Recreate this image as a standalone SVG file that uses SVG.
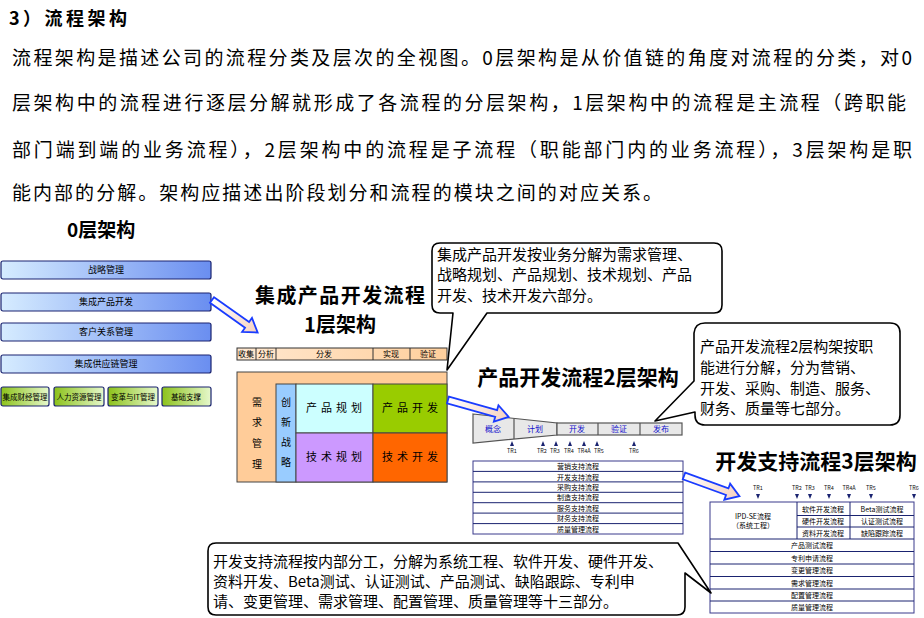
<svg xmlns="http://www.w3.org/2000/svg" width="924" height="618" viewBox="0 0 924 618">
<defs>
<linearGradient id="gBlue" x1="0" y1="0" x2="1" y2="0"><stop offset="0" stop-color="#d6ecff"/><stop offset="1" stop-color="#6a8ef0"/></linearGradient>
<linearGradient id="gGreen" x1="0" y1="0" x2="1" y2="0"><stop offset="0" stop-color="#8cc21a"/><stop offset="1" stop-color="#e6f8cc"/></linearGradient>
<linearGradient id="gPeach" x1="0" y1="0" x2="1" y2="0"><stop offset="0" stop-color="#ffe8d0"/><stop offset="1" stop-color="#ffcf9c"/></linearGradient>
<linearGradient id="gArrow" x1="0" y1="0" x2="1" y2="0"><stop offset="0" stop-color="#ffffff"/><stop offset="1" stop-color="#f6d2c0"/></linearGradient>
</defs>
<style>
text{font-family:"Noto Sans CJK SC","Liberation Sans",sans-serif;fill:#000}
.title{font-size:18px;font-weight:bold}
.para{font-size:19px}
.h{font-size:21px;font-weight:bold;text-anchor:middle}
.h1{font-size:20px;font-weight:bold;text-anchor:middle}
.bar{stroke:#1a2370;stroke-width:1.2}
.bt{font-size:9px;text-anchor:middle}
.gt{font-size:7.5px;text-anchor:middle}
.tiny{font-size:8px;text-anchor:middle}
.blue{font-size:8px;text-anchor:middle;fill:#1010cc}
.tr{font-size:5.5px;text-anchor:middle;fill:#111}
.cell{stroke:#444;stroke-width:1}
.big{font-size:11px;text-anchor:middle;letter-spacing:4px}
.tbl{fill:#fff;stroke:#3a3a8c;stroke-width:1}
.rt{font-size:7px;text-anchor:middle}
.arrow{fill:url(#gArrow);stroke:#1a3cff;stroke-width:1.8;stroke-linejoin:miter}
.call{fill:#fff;stroke:#000;stroke-width:1.6;stroke-linejoin:round}
.ct{font-size:15px}
.tri{fill:#1a2370}
</style>
<rect width="924" height="618" fill="#fff"/>

<g id="intro">
<text class="title" x="9" y="25" textLength="118" lengthAdjust="spacing">3）流程架构</text>
<text class="para" x="12" y="65" textLength="900" lengthAdjust="spacing">流程架构是描述公司的流程分类及层次的全视图。0层架构是从价值链的角度对流程的分类，对0</text>
<text class="para" x="12" y="110" textLength="894" lengthAdjust="spacing">层架构中的流程进行逐层分解就形成了各流程的分层架构，1层架构中的流程是主流程（跨职能</text>
<text class="para" x="12" y="157" textLength="900" lengthAdjust="spacing">部门端到端的业务流程），2层架构中的流程是子流程（职能部门内的业务流程），3层架构是职</text>
<text class="para" x="12" y="200" textLength="650" lengthAdjust="spacing">能内部的分解。架构应描述出阶段划分和流程的模块之间的对应关系。</text>
</g>

<g id="level0">
<text x="67" y="237" style="font-size:19px;font-weight:bold">0层架构</text>
<rect class="bar" x="1" y="261" width="210" height="18" rx="2" fill="url(#gBlue)"/>
<text class="bt" x="106" y="273">战略管理</text>
<rect class="bar" x="1" y="293" width="210" height="18" rx="2" fill="url(#gBlue)"/>
<text class="bt" x="106" y="305">集成产品开发</text>
<rect class="bar" x="1" y="323" width="210" height="18" rx="2" fill="url(#gBlue)"/>
<text class="bt" x="106" y="335">客户关系管理</text>
<rect class="bar" x="1" y="355" width="210" height="18" rx="2" fill="url(#gBlue)"/>
<text class="bt" x="106" y="367">集成供应链管理</text>
<rect class="bar" x="1" y="387" width="48" height="19" rx="2" fill="url(#gGreen)"/>
<text class="gt" x="25" y="399.5">集成财经管理</text>
<rect class="bar" x="54" y="387" width="50" height="19" rx="2" fill="url(#gGreen)"/>
<text class="gt" x="79" y="399.5">人力资源管理</text>
<rect class="bar" x="108" y="387" width="50" height="19" rx="2" fill="url(#gGreen)"/>
<text class="gt" x="133" y="399.5">变革与IT管理</text>
<rect class="bar" x="162" y="387" width="49" height="19" rx="2" fill="url(#gGreen)"/>
<text class="gt" x="186" y="399.5">基础支撑</text>
</g>

<g id="level1">
<text class="h1" x="340" y="303" textLength="170" lengthAdjust="spacing">集成产品开发流程</text>
<text class="h1" x="340" y="332">1层架构</text>
<rect x="237" y="348" width="210" height="12" fill="url(#gPeach)" stroke="#333" stroke-width="1"/>
<path d="M256,348V360M276,348V360M373,348V360M410,348V360" stroke="#333" stroke-width="1"/>
<text class="tiny" x="246" y="357">收集</text>
<text class="tiny" x="266" y="357">分析</text>
<text class="tiny" x="324" y="357">分发</text>
<text class="tiny" x="391" y="357">实现</text>
<text class="tiny" x="428" y="357">验证</text>
<rect class="cell" x="237" y="372" width="210" height="110" fill="#ffcc99"/>
<rect class="cell" x="276" y="384" width="20" height="98" fill="#99ccff"/>
<rect class="cell" x="296" y="384" width="77" height="49" fill="#ccffff"/>
<rect class="cell" x="373" y="384" width="74" height="49" fill="#99cc00"/>
<rect class="cell" x="296" y="433" width="77" height="49" fill="#cc99ff"/>
<rect class="cell" x="373" y="433" width="74" height="49" fill="#ff6600"/>
<g style="font-size:10px;text-anchor:middle">
<text x="257" y="406">需</text><text x="257" y="426">求</text><text x="257" y="447">管</text><text x="257" y="468">理</text>
<text x="286" y="406">创</text><text x="286" y="426">新</text><text x="286" y="446">战</text><text x="286" y="466">略</text>
</g>
<text class="big" x="336" y="412">产品规划</text>
<text class="big" x="412" y="412">产品开发</text>
<text class="big" x="336" y="461">技术规划</text>
<text class="big" x="412" y="461">技术开发</text>
</g>

<g id="level2">
<text class="h" x="578" y="385">产品开发流程2层架构</text>
<polygon points="473,414 557,423 557,435 473,443" fill="#e8e8e8" stroke="#555" stroke-width="1.2"/>
<rect x="557" y="423" width="125" height="12" fill="#e8e8e8" stroke="#555" stroke-width="1.2"/>
<path d="M514,418.4V439.1M598,423V435M640,423V435" stroke="#555" stroke-width="1.2"/>
<text class="blue" x="493" y="432">概念</text>
<text class="blue" x="535" y="432">计划</text>
<text class="blue" x="577" y="432">开发</text>
<text class="blue" x="619" y="432">验证</text>
<text class="blue" x="661" y="432">发布</text>
<g id="tr2">
<path class="tri" d="M510,446L512,441L514,446ZM541,446L543,441L545,446ZM554,446L556,441L558,446ZM568,446L570,441L572,446ZM582,446L584,441L586,446ZM595,446L597,441L599,446ZM632,446L634,441L636,446Z"/>
<text class="tr" x="512" y="453">TR1</text>
<text class="tr" x="542" y="453">TR2</text>
<text class="tr" x="555" y="453">TR3</text>
<text class="tr" x="569" y="453">TR4</text>
<text class="tr" x="584" y="453">TR4A</text>
<text class="tr" x="599" y="453">TR5</text>
<text class="tr" x="634" y="453">TR6</text>
</g>
<rect class="tbl" x="473" y="461" width="210" height="73" stroke-width="1.5"/>
<path d="M473,471.4H683M473,481.9H683M473,492.3H683M473,502.7H683M473,513.1H683M473,523.6H683" stroke="#1a2370" stroke-width="1"/>
<text class="rt" x="578" y="469">营销支持流程</text>
<text class="rt" x="578" y="479.5">开发支持流程</text>
<text class="rt" x="578" y="490">采购支持流程</text>
<text class="rt" x="578" y="500.4">制造支持流程</text>
<text class="rt" x="578" y="510.8">服务支持流程</text>
<text class="rt" x="578" y="521.2">财务支持流程</text>
<text class="rt" x="578" y="531.6">质量管理流程</text>
</g>

<g id="level3">
<text class="h" x="816" y="469">开发支持流程3层架构</text>
<g id="tr3">
<path class="tri" d="M756,494L760,494L758,499ZM795,494L799,494L797,499ZM808,494L812,494L810,499ZM827,494L831,494L829,499ZM847,494L851,494L849,499ZM869,494L873,494L871,499ZM912,494L916,494L914,499Z"/>
<text class="tr" x="758" y="490">TR1</text>
<text class="tr" x="797" y="490">TR2</text>
<text class="tr" x="810" y="490">TR3</text>
<text class="tr" x="829" y="490">TR4</text>
<text class="tr" x="849" y="490">TR4A</text>
<text class="tr" x="871" y="490">TR5</text>
<text class="tr" x="914" y="490">TR6</text>
</g>
<rect class="tbl" x="710" y="502" width="204" height="111" stroke-width="1.5"/>
<path d="M797,502V539M850,502V539M797,515.5H914M797,527H914M710,539H914M710,551.5H914M710,564H914M710,576.5H914M710,589H914M710,601H914" stroke="#1a2370" stroke-width="1"/>
<text class="rt" x="753" y="519">IPD-SE流程</text>
<text class="rt" x="753" y="528">（系统工程）</text>
<text class="rt" x="823" y="511.5">软件开发流程</text>
<text class="rt" x="823" y="524">硬件开发流程</text>
<text class="rt" x="823" y="535.5">资料开发流程</text>
<text class="rt" x="882" y="511.5">Beta测试流程</text>
<text class="rt" x="882" y="524">认证测试流程</text>
<text class="rt" x="882" y="535.5">缺陷跟踪流程</text>
<text class="rt" x="812" y="548">产品测试流程</text>
<text class="rt" x="812" y="560.5">专利申请流程</text>
<text class="rt" x="812" y="573">变更管理流程</text>
<text class="rt" x="812" y="585.5">需求管理流程</text>
<text class="rt" x="812" y="597.5">配置管理流程</text>
<text class="rt" x="812" y="609.5">质量管理流程</text>
</g>

<g id="connectors">
<path class="arrow" transform="translate(212,300) rotate(35.4)" d="M0,-3.5L43,-3.5L43,-8.5L56,0L43,8.5L43,3.5L0,3.5Z"/>
<path class="arrow" transform="translate(448,400) rotate(15.6)" d="M0,-3.5L50,-3.5L50,-8.5L63,0L50,8.5L50,3.5L0,3.5Z"/>
<path class="arrow" transform="translate(684,476) rotate(20)" d="M0,-3.5L46,-3.5L46,-8.5L59,0L46,8.5L46,3.5L0,3.5Z"/>
</g>

<g id="callout1">
<path class="call" d="M440,243H714Q722,243 722,251V305Q722,313 714,313H487L447,370L453,313H440Q432,313 432,305V251Q432,243 440,243Z"/>
<text class="ct" x="437" y="260">集成产品开发按业务分解为需求管理、</text>
<text class="ct" x="437" y="280">战略规划、产品规划、技术规划、产品</text>
<text class="ct" x="437" y="301">开发、技术开发六部分。</text>
</g>

<g id="callout2">
<path class="call" d="M705,323H890Q900,323 900,333V415Q900,425 890,425H705Q695,425 695,415V412L655,421L694,381V333Q695,323 705,323Z"/>
<text class="ct" x="700" y="352">产品开发流程2层构架按职</text>
<text class="ct" x="700" y="373">能进行分解，分为营销、</text>
<text class="ct" x="700" y="394">开发、采购、制造、服务、</text>
<text class="ct" x="700" y="414">财务、质量等七部分。</text>
</g>

<g id="callout3">
<path class="call" d="M216,543H678L711,593L685,573V607Q685,615 677,615H216Q208,615 208,607V551Q208,543 216,543Z"/>
<text class="ct" x="213" y="567">开发支持流程按内部分工，分解为系统工程、软件开发、硬件开发、</text>
<text class="ct" x="213" y="587">资料开发、Beta测试、认证测试、产品测试、缺陷跟踪、专利申</text>
<text class="ct" x="213" y="607">请、变更管理、需求管理、配置管理、质量管理等十三部分。</text>
</g>
</svg>
